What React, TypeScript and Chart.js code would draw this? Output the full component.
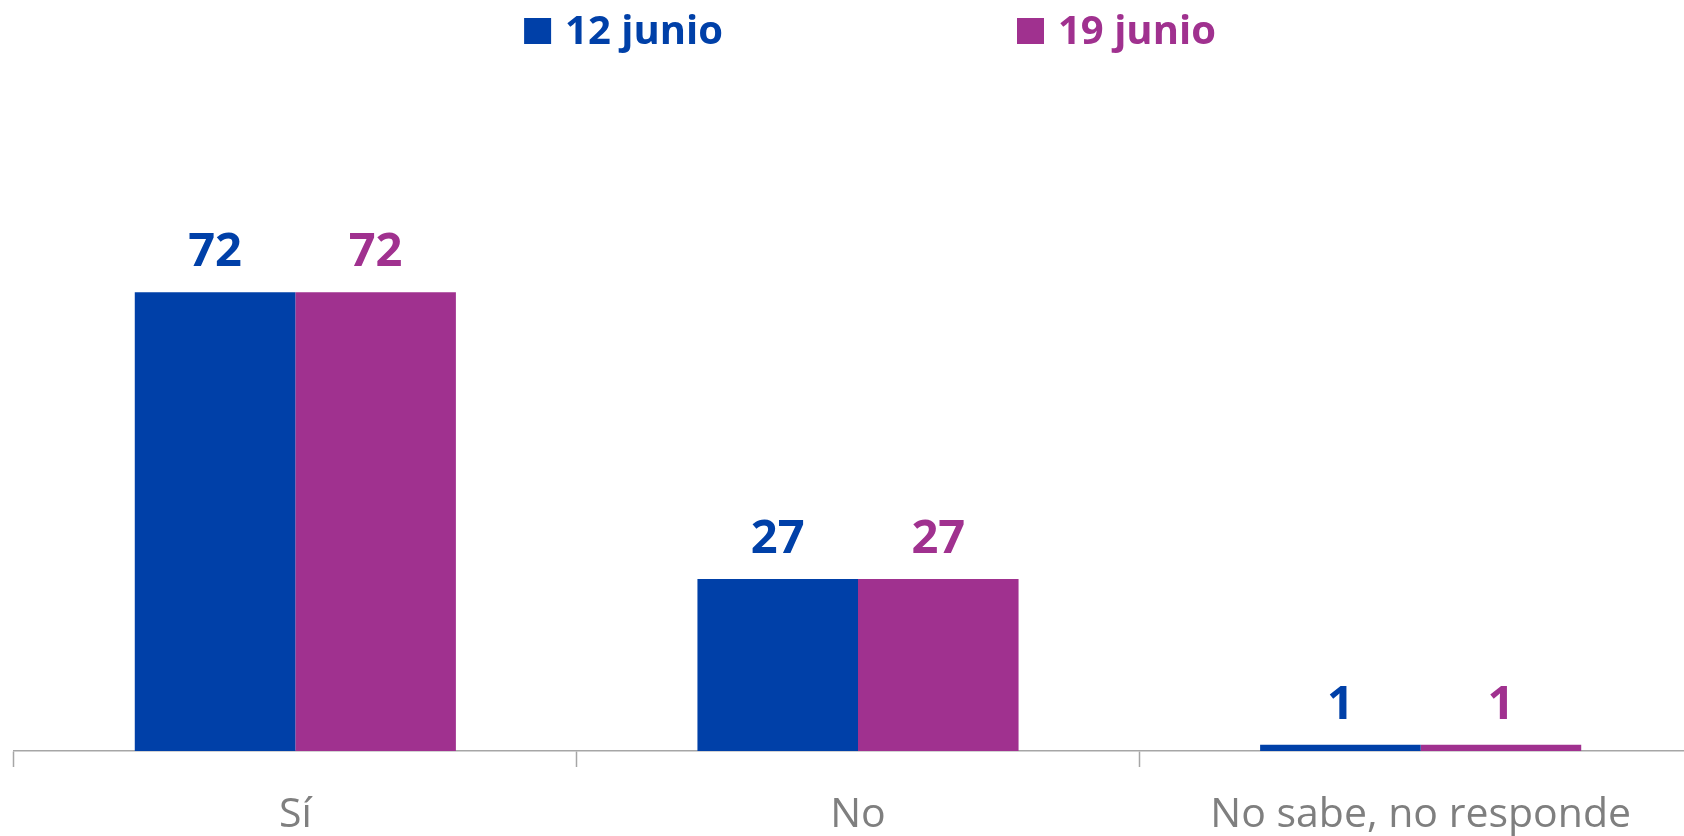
import React, { useEffect, useRef } from "react";
import { Chart, registerables } from "chart.js";

Chart.register(...registerables);

const categories = ["Sí", "No", "No sabe, no responde"];
const seriesNames = ["12 junio", "19 junio"];
const values12 = [72, 27, 1];
const values19 = [72, 27, 1];

const BLUE = "#0040A8";
const PURPLE = "#A0318F";
const AXIS = "#A6A6A6";
const LABEL_GRAY = "#7F7F7F";
const FONT = "'Open Sans', 'Noto Sans', sans-serif";

const valueLabelPlugin = {
  id: "valueLabels",
  afterDatasetsDraw(chart: any) {
    const ctx = chart.ctx;
    ctx.save();
    chart.data.datasets.forEach((ds: any, di: number) => {
      const meta = chart.getDatasetMeta(di);
      meta.data.forEach((bar: any, i: number) => {
        ctx.font = `bold 47px ${FONT}`;
        ctx.fillStyle = ds.backgroundColor;
        ctx.textAlign = "center";
        ctx.textBaseline = "alphabetic";
        ctx.fillText(String(ds.data[i]), bar.x, bar.y - 26);
      });
    });
    ctx.restore();
  },
};

const legendPlugin = {
  id: "customLegend",
  afterDraw(chart: any) {
    const ctx = chart.ctx;
    ctx.save();
    ctx.font = `bold 40px ${FONT}`;
    const box = 27;
    const textGap = 14;
    const itemGap = 294;
    const items = chart.data.datasets.map((ds: any) => ({
      text: ds.label,
      color: ds.backgroundColor,
      w: box + textGap + ctx.measureText(ds.label).width,
    }));
    const total = items.reduce((s: number, it: any) => s + it.w, 0) + itemGap * (items.length - 1);
    let x = 870 - total / 2;
    items.forEach((it: any) => {
      ctx.fillStyle = it.color;
      ctx.fillRect(x, 18, box, 26);
      ctx.textAlign = "left";
      ctx.textBaseline = "alphabetic";
      ctx.fillText(it.text, x + box + textGap, 44);
      x += it.w + itemGap;
    });
    ctx.restore();
  },
};

export default function App() {
  const ref = useRef<HTMLCanvasElement | null>(null);
  useEffect(() => {
    document.body.style.margin = "0";
    document.body.style.overflow = "hidden";
    if (!ref.current) return;
    const chart = new Chart(ref.current, {
      type: "bar",
      data: {
        labels: categories,
        datasets: [
          { label: seriesNames[0], data: values12, backgroundColor: BLUE, borderWidth: 0 },
          { label: seriesNames[1], data: values19, backgroundColor: PURPLE, borderWidth: 0 },
        ],
      },
      options: {
        responsive: false,
        animation: false,
        layout: { padding: { top: 114, left: 14, right: 8, bottom: 0 } },
        datasets: { bar: { categoryPercentage: 0.5707, barPercentage: 1 } },
        plugins: { legend: { display: false }, tooltip: { enabled: false } },
        scales: {
          y: { display: false, min: 0, max: 100 },
          x: {
            afterFit: (scale: any) => {
              scale.height = 85;
            },
            border: { display: true, color: AXIS, width: 1.5 },
            grid: {
              display: true,
              offset: true,
              drawOnChartArea: false,
              drawTicks: true,
              tickLength: 16,
              tickWidth: 1.5,
              color: AXIS,
            },
            ticks: {
              color: LABEL_GRAY,
              padding: 24,
              font: { family: FONT, size: 41 },
              maxRotation: 0,
              autoSkip: false,
            },
          },
        },
      },
      plugins: [valueLabelPlugin, legendPlugin],
    });
    return () => chart.destroy();
  }, []);
  return (
    <div style={{ width: 1684, height: 836, overflow: "hidden", position: "relative", background: "#fff" }}>
      <canvas ref={ref} width={1710} height={836} style={{ width: 1710, height: 836, display: "block" }} />
    </div>
  );
}
